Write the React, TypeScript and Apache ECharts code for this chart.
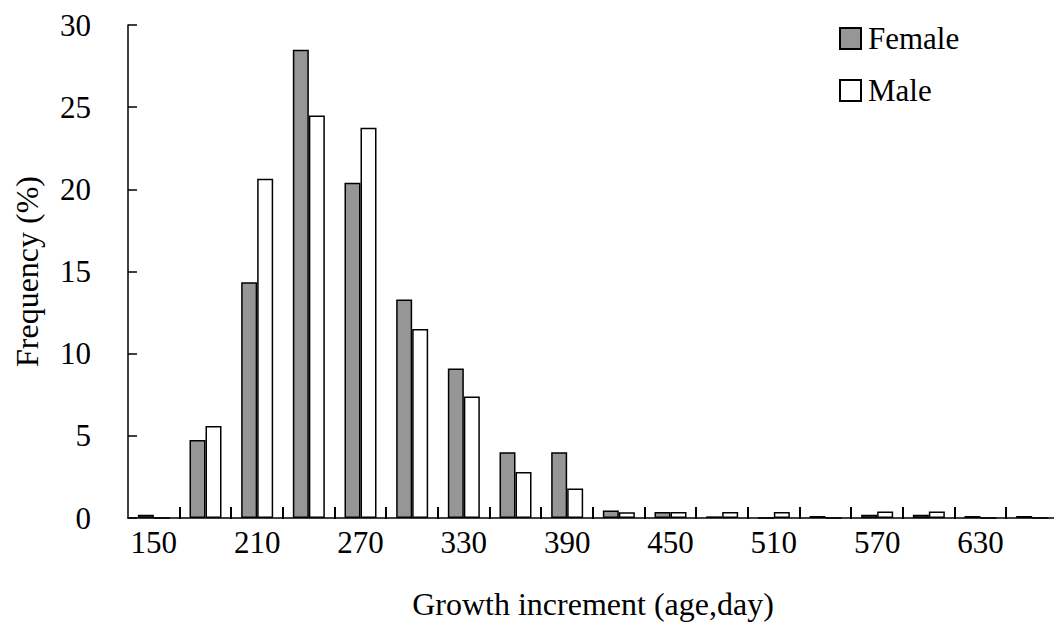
import React, { useEffect, useRef } from "react";
import * as echarts from "echarts";

const categories = ["150", "180", "210", "240", "270", "300", "330", "360", "390", "420", "450", "480", "510", "540", "570", "600", "630", "660"];
const femaleValues = [0.2, 4.75, 14.35, 28.5, 20.4, 13.3, 9.1, 4.0, 4.0, 0.45, 0.37, 0.1, 0, 0.12, 0.2, 0.2, 0.12, 0.12];
const maleValues = [0, 5.6, 20.65, 24.5, 23.75, 11.5, 7.4, 2.8, 1.8, 0.35, 0.37, 0.37, 0.37, 0, 0.4, 0.4, 0, 0];
const yTicks = { min: 0, max: 30, interval: 5 };

const FONT = '"Liberation Serif", "Times New Roman", serif';

export default function App() {
  const ref = useRef<HTMLDivElement>(null);
  useEffect(() => {
    if (!ref.current) return;
    const chart = echarts.init(ref.current, undefined, { renderer: "svg" });
    const tickData = categories.map((c, i) => [i, 0]).slice(1);
    chart.setOption({
      animation: false,
      backgroundColor: "#ffffff",
      textStyle: { fontFamily: FONT, color: "#000" },
      legend: {
        orient: "vertical",
        left: 834,
        top: 18,
        itemWidth: 21,
        itemHeight: 21,
        itemGap: 21,
        icon: "rect",
        textStyle: { fontFamily: FONT, fontSize: 31, color: "#000", padding: [0, 0, 0, 2] },
        data: ["Female", "Male"],
      },
      grid: { left: 128, top: 25, width: 930, height: 493, containLabel: false },
      xAxis: {
        type: "category",
        data: categories,
        boundaryGap: true,
        name: "Growth increment (age,day)",
        nameLocation: "middle",
        nameGap: 70,
        nameTextStyle: { fontFamily: FONT, fontSize: 32, color: "#000" },
        axisLine: { lineStyle: { color: "#000", width: 1.5 } },
        axisTick: { show: false },
        axisLabel: { interval: 1, margin: 9, fontFamily: FONT, fontSize: 31, color: "#000" },
        splitLine: { show: false },
      },
      yAxis: {
        type: "value",
        min: yTicks.min,
        max: yTicks.max,
        interval: yTicks.interval,
        name: "Frequency (%)",
        nameLocation: "middle",
        nameGap: 85,
        nameTextStyle: { fontFamily: FONT, fontSize: 32, color: "#000" },
        axisLine: { show: true, lineStyle: { color: "#000", width: 1.5 } },
        axisTick: { show: true, inside: true, length: 9, lineStyle: { color: "#000", width: 1.5 } },
        axisLabel: { margin: 37, fontFamily: FONT, fontSize: 31, color: "#000" },
        splitLine: { show: false },
      },
      series: [
        {
          name: "Female",
          type: "bar",
          data: femaleValues,
          barWidth: 16,
          barGap: "0%",
          itemStyle: { color: "#969696", borderColor: "#000", borderWidth: 1.5 },
        },
        {
          name: "Male",
          type: "bar",
          data: maleValues,
          barWidth: 16,
          barGap: "0%",
          itemStyle: { color: "#ffffff", borderColor: "#000", borderWidth: 1.5 },
        },
        {
          name: "ticks",
          type: "custom",
          silent: true,
          clip: false,
          z: 10,
          data: tickData,
          renderItem: (params: any, api: any) => {
            const pt = api.coord([api.value(0), 0]);
            const w = api.size([1, 0])[0];
            const x = Math.round(pt[0] - w / 2);
            return {
              type: "rect",
              shape: { x: x - 1, y: pt[1] - 11, width: 2, height: 12 },
              style: { fill: "#000" },
            };
          },
        },
      ],
    });
    return () => chart.dispose();
  }, []);
  return (
    <div
      ref={ref}
      style={{ position: "fixed", left: 0, top: 0, width: 1064, height: 637 }}
    />
  );
}
